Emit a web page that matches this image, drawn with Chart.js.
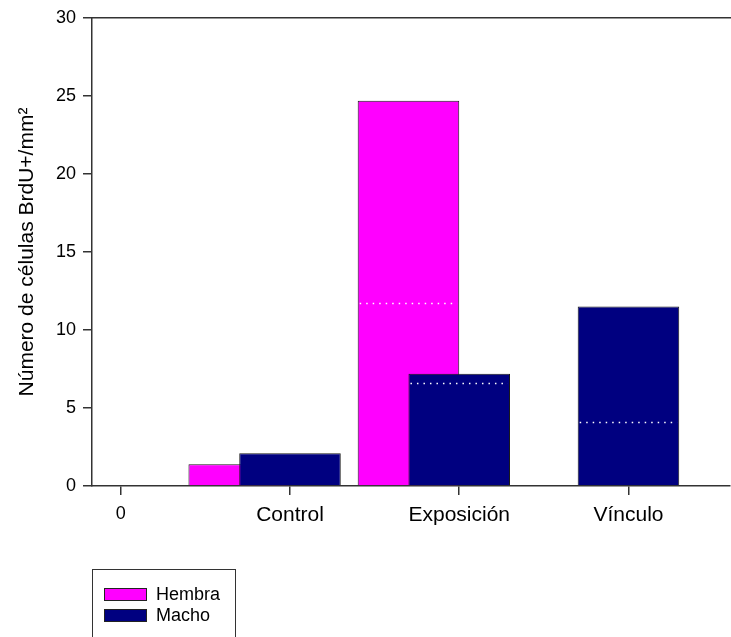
<!DOCTYPE html>
<html>
<head>
<meta charset="utf-8">
<script src="https://cdn.jsdelivr.net/npm/chart.js@4"></script>
<style>
  html, body { margin: 0; padding: 0; background: #fff; overflow: hidden; }
  #wrap { position: relative; width: 731px; height: 637px; }
  canvas { position: absolute; left: 0; top: 0; }
  #legend { position: absolute; left: 92px; top: 569px; width: 144px; height: 100px;
            border: 1.5px solid #333; box-sizing: border-box;
            font-family: "Liberation Sans", Arial, sans-serif; font-size: 18px; color: #000; }
  .item { position: absolute; left: 11px; height: 14px; display: flex; align-items: center; }
  .sw { width: 41px; height: 11px; border: 1px solid #222; margin-right: 9px; }
</style>
</head>
<body>
<div id="wrap">
  <canvas id="c" width="731" height="637"></canvas>
  <div id="legend"></div>
</div>
<script>
// ---- data ----
const tickLabels = ["0", "Control", "Exposición", "Vínculo"];
const categories = ["Control", "Exposición", "Vínculo"];
const hembra = [1.4, 24.7, null];
const macho = [2.1, 7.2, 11.5];
const hembraMean = [null, 11.7, null];
const machoMean = [null, 6.6, 4.1];
const yTicks = [0, 5, 10, 15, 20, 25, 30];
const seriesNames = ["Hembra", "Macho"];
const seriesColors = ["#FF00FF", "#000080"];

const FONT = "'Liberation Sans', Arial, sans-serif";
const AXIS = "#333";

function toPoints(vals) {
  return categories.map((c, i) => ({ x: tickLabels.indexOf(c), y: vals[i] }));
}

// shift the Hembra bars half a bar to the left (overlapping style of the original)
const shiftPlugin = {
  id: 'shift',
  afterDatasetUpdate(chart, args) {
    const ds = chart.data.datasets[args.index];
    if (!ds.shiftHalfLeft) return;
    const meta = chart.getDatasetMeta(args.index);
    meta.data.forEach(el => { if (el && el.width) el.x -= el.width / 2; });
  }
};

// dotted white lines inside the bars
const meanPlugin = {
  id: 'means',
  afterDatasetsDraw(chart) {
    const ctx = chart.ctx;
    const y = chart.scales.y;
    chart.data.datasets.forEach((ds, di) => {
      const meta = chart.getDatasetMeta(di);
      (ds.means || []).forEach((v, i) => {
        if (v == null) return;
        const el = meta.data[i];
        if (!el) return;
        const py = Math.round(y.getPixelForValue(v)) + 0.5;
        ctx.save();
        ctx.strokeStyle = '#ffffff';
        ctx.lineWidth = 1.5;
        ctx.setLineDash([1.5, 5]);
        ctx.beginPath();
        ctx.moveTo(el.x - el.width / 2 + 2, py);
        ctx.lineTo(el.x + el.width / 2 - 2, py);
        ctx.stroke();
        ctx.restore();
      });
    });
  }
};

const chart = new Chart(document.getElementById('c'), {
  type: 'bar',
  data: {
    datasets: [
      { label: seriesNames[0], data: toPoints(hembra), means: hembraMean, shiftHalfLeft: true,
        backgroundColor: seriesColors[0], borderColor: '#1a1a1a', borderWidth: 1, order: 1 },
      { label: seriesNames[1], data: toPoints(macho), means: machoMean,
        backgroundColor: seriesColors[1], borderColor: '#1a1a1a', borderWidth: 1, order: 0 }
    ]
  },
  options: {
    responsive: false,
    animation: false,
    events: [],
    grouped: false,
    barPercentage: 0.6,
    categoryPercentage: 1,
    layout: { padding: { left: 0, top: 18, right: 1, bottom: 0 } },
    plugins: { legend: { display: false }, tooltip: { enabled: false } },
    scales: {
      x: {
        type: 'linear', position: 'bottom', min: -0.17, max: 3.6, offset: false,
        afterBuildTicks: s => { s.ticks = tickLabels.map((_, i) => ({ value: i })); },
        afterFit: s => { s.height = 151; },
        grid: { offset: false, drawOnChartArea: false, drawTicks: true, tickLength: 9, tickColor: AXIS, lineWidth: 1.5 },
        border: { display: true, color: AXIS, width: 1.5 },
        ticks: {
          padding: 8, color: '#000', maxRotation: 0, autoSkip: false,
          font: c => ({ family: FONT, size: c.index === 0 ? 18 : 21 }),
          callback: v => tickLabels[v]
        }
      },
      xTop: {
        type: 'linear', position: 'top', min: -0.17, max: 3.6, offset: false,
        afterFit: s => { s.height = 0; },
        grid: { display: false, drawTicks: false },
        border: { display: true, color: AXIS, width: 1.5 },
        ticks: { display: false }
      },
      y: {
        min: 0, max: 30,
        afterBuildTicks: s => { s.ticks = yTicks.map(v => ({ value: v })); },
        afterFit: s => { s.width = 92; },
        grid: { drawOnChartArea: false, drawTicks: true, tickLength: 9, tickColor: AXIS, lineWidth: 1.5 },
        border: { display: true, color: AXIS, width: 1.5 },
        ticks: { padding: 7, color: '#000', font: { family: FONT, size: 18 } },
        title: {
          display: true, text: 'Número de células BrdU+/mm²', color: '#000',
          font: { family: FONT, size: 21 }, padding: { top: 15, bottom: 0 }
        }
      }
    }
  },
  plugins: [shiftPlugin, meanPlugin]
});

// HTML legend built from the chart's datasets
const leg = document.getElementById('legend');
chart.data.datasets.forEach((ds, i) => {
  const it = document.createElement('div');
  it.className = 'item';
  it.style.top = (17 + i * 21) + 'px';
  const sw = document.createElement('div');
  sw.className = 'sw';
  sw.style.background = ds.backgroundColor;
  const tx = document.createElement('span');
  tx.textContent = ds.label;
  it.appendChild(sw); it.appendChild(tx);
  leg.appendChild(it);
});
</script>
</body>
</html>
